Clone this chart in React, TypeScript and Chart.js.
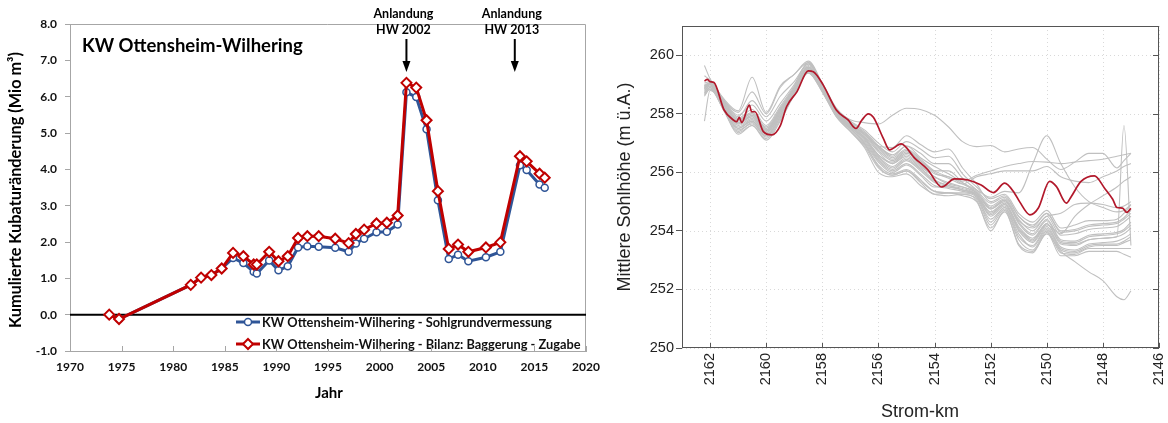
import React, { useEffect, useRef } from "react";
import { Chart, registerables } from "chart.js";
Chart.register(...registerables);

// ---------------- Left panel data ----------------
const YEARS = [1973.8, 1974.75, 1981.7, 1982.7, 1983.7, 1984.7, 1985.8, 1986.8, 1987.8, 1988.1,
  1989.3, 1990.2, 1991.1, 1992.1, 1993.0, 1994.1, 1995.7, 1997.0, 1997.7, 1998.5,
  1999.7, 2000.7, 2001.75, 2002.6, 2003.55, 2004.55, 2005.65, 2006.7, 2007.6, 2008.6,
  2010.3, 2011.7, 2013.6, 2014.25, 2015.5, 2016.0];
const SOHLGRUND = [0.0, -0.12, 0.82, 1.02, 1.09, 1.27, 1.56, 1.42, 1.18, 1.13,
  1.49, 1.22, 1.33, 1.85, 1.88, 1.87, 1.84, 1.73, 1.96, 2.09,
  2.27, 2.28, 2.48, 6.12, 5.99, 5.10, 3.15, 1.53, 1.65, 1.47,
  1.58, 1.73, 4.11, 3.98, 3.58, 3.49];
const BILANZ = [0.0, -0.12, 0.82, 1.02, 1.09, 1.27, 1.70, 1.61, 1.38, 1.38,
  1.73, 1.47, 1.61, 2.11, 2.16, 2.16, 2.09, 1.97, 2.22, 2.34,
  2.51, 2.53, 2.73, 6.38, 6.25, 5.35, 3.40, 1.81, 1.93, 1.73,
  1.85, 1.99, 4.36, 4.22, 3.88, 3.77];
const LEFT_TITLE = "KW Ottensheim-Wilhering";
const LEGEND_LABELS = [
  "KW Ottensheim-Wilhering - Sohlgrundvermessung",
  "KW Ottensheim-Wilhering - Bilanz: Baggerung - Zugabe",
];
const ANNOT_YEARS = [2002.6, 2013.1];
const ANNOT_LINE1 = ["Anlandung", "Anlandung"];
const ANNOT_LINE2 = ["HW 2002", "HW 2013"];
const LEFT_Y_TITLE = "Kumulierte Kubaturänderung (Mio m³)";
const LEFT_X_TITLE = "Jahr";

// ---------------- Right panel data ----------------
const KM_GRID = [2162.2, 2162.0, 2161.5, 2161.0, 2160.5, 2160.0, 2159.5, 2159.0, 2158.5, 2158.0,
  2157.5, 2157.0, 2156.5, 2156.0, 2155.5, 2155.0, 2154.5, 2154.0, 2153.5, 2153.0,
  2152.5, 2152.0, 2151.5, 2151.0, 2150.5, 2150.0, 2149.5, 2149.0, 2148.5, 2148.0,
  2147.5, 2147.25, 2147.0];
const G_TOP = [259.3, 259.15, 258.45, 258.05, 258.75, 258.0, 258.9, 259.35, 259.75, 259.0,
  258.15, 257.8, 257.7, 257.65, 257.95, 258.19, 258.15, 257.95, 257.55, 257.05,
  256.88, 256.92, 256.7, 256.8, 256.85, 256.45, 256.1, 256.35, 256.65, 256.65,
  256.15, 256.4, 256.65];
const G_B1 = [259.05, 259.1, 258.45, 257.95, 258.3, 257.75, 258.35, 259.0, 259.75, 259.0,
  258.15, 257.75, 257.45, 257.0, 256.7, 257.05, 256.8, 256.5, 256.55, 255.95,
  255.5, 255.1, 255.25, 254.6, 254.3, 254.7, 254.1, 254.2, 254.35, 254.35,
  254.4, 254.6, 254.9];
const G_B2 = [258.9, 259.05, 258.35, 257.8, 258.05, 257.55, 258.2, 258.9, 259.65, 258.95,
  258.1, 257.65, 257.3, 256.75, 256.4, 256.7, 256.35, 255.95, 255.85, 255.6,
  255.35, 254.85, 255.1, 254.4, 254.0, 254.5, 253.85, 253.9, 254.05, 254.1,
  254.15, 254.3, 254.5];
const G_B3 = [258.8, 258.95, 258.25, 257.6, 257.85, 257.35, 258.0, 258.8, 259.55, 258.85,
  258.0, 257.55, 257.15, 256.5, 256.15, 256.45, 256.1, 255.7, 255.55, 255.4,
  255.25, 254.6, 254.9, 254.1, 253.7, 254.25, 253.55, 253.5, 253.7, 253.75,
  253.8, 253.9, 254.1];
const G_B4 = [258.7, 258.9, 258.15, 257.4, 257.7, 257.2, 257.85, 258.7, 259.45, 258.8,
  257.95, 257.45, 256.95, 256.25, 255.95, 256.1, 255.75, 255.35, 255.3, 255.3,
  255.15, 254.4, 254.8, 253.9, 253.45, 254.05, 253.35, 253.25, 253.45, 253.5,
  253.5, 253.6, 253.7];
const G_B5 = [258.6, 258.85, 258.1, 257.3, 257.6, 257.1, 257.75, 258.65, 259.4, 258.75,
  257.9, 257.4, 256.85, 256.0, 255.85, 255.95, 255.55, 255.25, 255.2, 255.25,
  255.05, 254.0, 254.7, 253.5, 253.25, 253.95, 253.15, 253.15, 253.3, 253.3,
  253.3, 253.2, 253.1];
const G_B6 = [259.65, 259.2, 258.5, 258.1, 259.25, 258.05, 258.95, 259.35, 259.8, 259.05,
  258.2, 257.75, 257.35, 256.9, 256.85, 257.25, 256.95, 256.7, 256.8, 256.15,
  255.6, 255.0, 255.2, 254.5, 254.2, 254.6, 254.0, 254.05, 254.2, 254.25,
  254.3, 254.45, 254.7];
const G_B7 = [257.75, 258.8, 258.4, 257.9, 258.45, 257.9, 258.6, 259.1, 259.7, 258.95,
  258.1, 257.7, 257.25, 256.7, 256.3, 256.6, 256.25, 255.85, 255.65, 255.5,
  255.3, 254.75, 255.0, 254.3, 253.9, 254.4, 253.7, 253.65, 253.85, 253.9,
  253.95, 254.05, 254.3];
const G_B8 = [258.85, 259.0, 258.2, 257.5, 257.75, 257.3, 257.95, 258.75, 259.5, 258.85,
  258.0, 257.5, 257.05, 256.4, 256.05, 256.3, 255.95, 255.55, 255.45, 255.35,
  255.2, 254.5, 254.85, 254.0, 253.6, 254.15, 253.45, 253.35, 253.55, 253.6,
  253.65, 253.75, 253.9];
const G_B9 = [259.0, 259.05, 258.4, 257.85, 258.15, 257.6, 258.25, 258.95, 259.7, 258.95,
  258.1, 257.7, 257.4, 256.9, 256.55, 256.9, 256.65, 256.3, 256.3, 255.8,
  255.4, 254.95, 255.15, 254.5, 254.15, 254.6, 253.95, 254.0, 254.15, 254.2,
  254.25, 254.4, 254.6];
const G_B10 = [258.75, 258.9, 258.2, 257.45, 257.65, 257.25, 257.9, 258.7, 259.5, 258.8,
  257.95, 257.5, 257.0, 256.2, 255.9, 256.05, 255.7, 255.35, 255.3, 255.25,
  255.1, 254.2, 254.75, 253.7, 253.35, 254.0, 253.25, 253.2, 253.4, 253.4,
  253.4, 253.4, 253.4];
const G_B11 = [258.95, 259.0, 258.3, 257.65, 257.95, 257.45, 258.1, 258.85, 259.6, 258.9,
  258.05, 257.6, 257.2, 256.6, 256.35, 256.65, 256.4, 256.05, 256.05, 255.65,
  255.3, 254.8, 255.05, 254.25, 253.85, 254.35, 253.65, 253.6, 253.8, 253.85,
  253.9, 254.0, 254.2];
const G_B12 = [258.7, 258.9, 258.15, 257.5, 257.75, 257.25, 257.9, 258.75, 259.5, 258.8,
  257.95, 257.5, 257.0, 256.35, 256.0, 256.25, 255.9, 255.5, 255.5, 255.4,
  255.2, 254.3, 254.8, 253.8, 253.5, 254.1, 253.4, 253.3, 253.5, 253.55,
  253.55, 253.65, 253.8];
const G_PEAK = [258.95, 259.05, 258.35, 257.75, 258.0, 257.5, 258.15, 258.9, 259.6, 258.9,
  258.05, 257.65, 257.3, 256.9, 256.6, 256.9, 256.5, 256.2, 255.95, 255.65,
  255.4, 255.15, 255.35, 255.3, 256.3, 257.25, 256.3, 255.5, 255.0, 254.8,
  254.65, 254.7, 254.9];
const G_C = [258.9, 259.0, 258.35, 257.8, 258.0, 257.5, 258.15, 258.85, 259.6, 258.9,
  258.05, 257.6, 257.3, 256.8, 256.45, 256.75, 256.4, 256.0, 255.8, 255.6,
  255.85, 255.95, 256.05, 256.05, 256.05, 256.2, 255.85, 255.7, 255.65, 255.85,
  256.05, 256.2, 256.3];
const G_X = [258.95, 259.05, 258.3, 257.7, 257.95, 257.45, 258.1, 258.85, 259.6, 258.9,
  258.05, 257.6, 257.35, 256.85, 256.5, 256.8, 256.45, 256.05, 255.85, 255.7,
  255.9, 256.05, 256.2, 256.3, 256.37, 256.35, 256.3, 256.35, 256.4, 256.45,
  256.55, 256.6, 256.65];
const G_D = [258.8, 258.95, 258.25, 257.55, 257.8, 257.35, 258.0, 258.8, 259.55, 258.85,
  258.0, 257.55, 257.1, 256.45, 256.1, 256.4, 256.05, 255.65, 255.5, 255.4,
  255.2, 254.55, 254.9, 254.05, 253.65, 254.2, 253.9, 254.5, 254.9, 255.2,
  255.5, 255.7, 255.85];
const G_LOW = [258.65, 258.85, 258.1, 257.35, 257.6, 257.15, 257.8, 258.65, 259.4, 258.75,
  257.9, 257.4, 256.9, 256.15, 255.9, 256.05, 255.65, 255.25, 255.3, 255.2,
  255.0, 254.1, 254.65, 253.55, 253.3, 253.9, 253.3, 252.95, 252.6, 252.3,
  251.75, 251.65, 251.95];
const G_SPIKE = [258.9, 259.0, 258.3, 257.65, 257.9, 257.4, 258.05, 258.8, 259.55, 258.9,
  258.0, 257.55, 257.15, 256.55, 256.2, 256.5, 256.15, 255.75, 255.55, 255.45,
  255.25, 254.65, 254.95, 254.15, 253.75, 254.25, 253.6, 253.55, 253.7, 253.75,
  253.8, 257.6, 253.5];
const G_E = [258.85, 259.0, 258.3, 257.7, 257.9, 257.4, 258.1, 258.85, 259.6, 258.9,
  258.05, 257.6, 257.2, 256.6, 256.3, 256.55, 256.2, 255.85, 255.6, 255.5,
  255.3, 254.75, 255.05, 254.35, 254.1, 254.5, 254.6, 254.9, 254.95, 254.9,
  254.8, 254.85, 255.0];
const GRAY_SERIES = [G_TOP, G_B1, G_B2, G_B3, G_B4, G_B5, G_B6, G_B7, G_B8, G_B9, G_B10,
  G_B11, G_B12, G_PEAK, G_C, G_X, G_D, G_LOW, G_SPIKE, G_E];

const RED_KM = [2162.2, 2162.1, 2162.0, 2161.86, 2161.5, 2161.17, 2161.05, 2160.96, 2160.87, 2160.6,
  2160.52, 2160.4, 2160.1, 2159.8, 2159.5, 2159.27, 2158.9, 2158.5, 2158.32, 2157.97,
  2157.5, 2157.08, 2156.8, 2156.6, 2156.36, 2156.18, 2155.83, 2155.6, 2155.19, 2154.7,
  2154.24, 2153.74, 2153.29, 2152.8, 2152.34, 2151.9, 2151.5, 2151.15, 2150.97, 2150.6,
  2150.3, 2149.9, 2149.66, 2149.3, 2149.13, 2148.78, 2148.3, 2147.94, 2147.65, 2147.5,
  2147.3, 2147.15, 2147.0];
const RED_Z = [259.12, 259.18, 259.1, 259.07, 258.13, 257.79, 257.73, 257.88, 257.7, 258.3,
  258.07, 258.07, 257.39, 257.28, 257.59, 258.25, 258.76, 259.47, 259.44, 258.99,
  258.13, 257.79, 257.5, 257.77, 258.0, 257.88, 257.17, 256.77, 256.97, 256.48,
  256.09, 255.5, 255.78, 255.74, 255.57, 255.31, 255.63, 255.29, 255.0, 254.55,
  254.78, 255.69, 255.52, 254.95, 255.17, 255.69, 255.88, 255.46, 255.08, 254.8,
  254.78, 254.63, 254.77];
const RIGHT_Y_TITLE = "Mittlere Sohlhöhe (m ü.A.)";
const RIGHT_X_TITLE = "Strom-km";

// ---------------- Styles ----------------
const RED = "#C00000";
const BLUE = "#2F5597";
const LFONT = "Lato, 'Open Sans', sans-serif";
const RFONT = "'Liberation Sans', Arial, sans-serif";
const RED_R = "#B2182B";
const GRAY_R = "#C0C0C0";

function drawDiamond(ctx: CanvasRenderingContext2D, x: number, y: number, r: number) {
  ctx.beginPath();
  ctx.moveTo(x, y - r);
  ctx.lineTo(x + r, y);
  ctx.lineTo(x, y + r);
  ctx.lineTo(x - r, y);
  ctx.closePath();
  ctx.fillStyle = "#fff";
  ctx.fill();
  ctx.strokeStyle = RED;
  ctx.lineWidth = 2;
  ctx.stroke();
}

const leftDecor = {
  id: "leftDecor",
  beforeDatasetsDraw(chart: any) {
    const { ctx, chartArea: a, scales } = chart;
    ctx.save();
    ctx.strokeStyle = "#a6a6a6";
    ctx.lineWidth = 1;
    ctx.beginPath();
    ctx.moveTo(a.left, a.top + 0.5);
    ctx.lineTo(a.right - 0.5, a.top + 0.5);
    ctx.lineTo(a.right - 0.5, a.bottom);
    ctx.stroke();
    const y0 = scales.y.getPixelForValue(0);
    ctx.strokeStyle = "#000";
    ctx.lineWidth = 2;
    ctx.beginPath();
    ctx.moveTo(a.left, y0);
    ctx.lineTo(a.right, y0);
    ctx.stroke();
    ctx.restore();
  },
  afterDatasetsDraw(chart: any) {
    const { ctx, chartArea: a, scales } = chart;
    ctx.save();
    // legend
    const lx = a.left + 166;
    const ly = [a.bottom - 29, a.bottom - 7];
    ctx.font = `bold 12.8px ${LFONT}`;
    ctx.textBaseline = "middle";
    ctx.textAlign = "left";
    ctx.strokeStyle = BLUE;
    ctx.lineWidth = 3;
    ctx.beginPath();
    ctx.moveTo(lx, ly[0]);
    ctx.lineTo(lx + 24, ly[0]);
    ctx.stroke();
    ctx.beginPath();
    ctx.arc(lx + 12, ly[0], 3.5, 0, Math.PI * 2);
    ctx.fillStyle = "#fff";
    ctx.fill();
    ctx.lineWidth = 1.5;
    ctx.stroke();
    ctx.fillStyle = "#111";
    ctx.fillText(LEGEND_LABELS[0], lx + 26, ly[0] + 1);
    ctx.strokeStyle = RED;
    ctx.lineWidth = 3;
    ctx.beginPath();
    ctx.moveTo(lx, ly[1]);
    ctx.lineTo(lx + 24, ly[1]);
    ctx.stroke();
    drawDiamond(ctx, lx + 12, ly[1], 5);
    ctx.fillStyle = "#111";
    ctx.fillText(LEGEND_LABELS[1], lx + 26, ly[1] + 1);

    // inward x ticks
    ctx.strokeStyle = "#a6a6a6";
    ctx.lineWidth = 1;
    scales.x.ticks.forEach((t: any) => {
      const px = Math.round(scales.x.getPixelForValue(t.value)) + 0.5;
      ctx.beginPath();
      ctx.moveTo(px, a.bottom);
      ctx.lineTo(px, a.bottom - 5);
      ctx.stroke();
    });

    // title
    ctx.fillStyle = "#000";
    ctx.font = `bold 18.5px ${LFONT}`;
    ctx.textAlign = "left";
    ctx.fillText(LEFT_TITLE, a.left + 12, a.top + 22);

    // annotations
    ANNOT_YEARS.forEach((yr, i) => {
      const x = scales.x.getPixelForValue(yr);
      ctx.font = `bold 12.5px ${LFONT}`;
      ctx.textAlign = "center";
      ctx.fillStyle = "#000";
      ctx.fillText(ANNOT_LINE1[i], x - 3, 14);
      ctx.fillText(ANNOT_LINE2[i], x - 3, 30);
      ctx.strokeStyle = "#000";
      ctx.lineWidth = 2;
      ctx.beginPath();
      ctx.moveTo(x, 39);
      ctx.lineTo(x, 62);
      ctx.stroke();
      ctx.beginPath();
      ctx.moveTo(x - 4, 61);
      ctx.lineTo(x + 4, 61);
      ctx.lineTo(x, 72);
      ctx.closePath();
      ctx.fillStyle = "#000";
      ctx.fill();
    });

    // axis titles
    ctx.fillStyle = "#000";
    ctx.font = `bold 15px ${LFONT}`;
    ctx.textAlign = "center";
    ctx.fillText(LEFT_X_TITLE, (a.left + a.right) / 2 + 1, 393);
    ctx.font = `bold 16.3px ${LFONT}`;
    ctx.translate(16, 190);
    ctx.rotate(-Math.PI / 2);
    ctx.fillText(LEFT_Y_TITLE, 0, 0);
    ctx.restore();
  },
};

const rightDecor = {
  id: "rightDecor",
  beforeDatasetsDraw(chart: any) {
    const { ctx, chartArea: a, scales } = chart;
    ctx.save();
    ctx.strokeStyle = "#d9d9d9";
    ctx.lineWidth = 1;
    ctx.setLineDash([1, 3]);
    scales.x.ticks.forEach((t: any) => {
      const px = Math.round(scales.x.getPixelForValue(t.value)) + 0.5;
      ctx.beginPath();
      ctx.moveTo(px, a.top);
      ctx.lineTo(px, a.bottom);
      ctx.stroke();
    });
    scales.y.ticks.forEach((t: any) => {
      const py = Math.round(scales.y.getPixelForValue(t.value)) + 0.5;
      ctx.beginPath();
      ctx.moveTo(a.left, py);
      ctx.lineTo(a.right, py);
      ctx.stroke();
    });
    ctx.restore();
  },
  afterDraw(chart: any) {
    const { ctx, chartArea: a, scales } = chart;
    ctx.save();
    ctx.strokeStyle = "#555";
    ctx.lineWidth = 1;
    ctx.strokeRect(Math.round(a.left) + 0.5, Math.round(a.top) + 0.5, Math.round(a.right - a.left) - 1, Math.round(a.bottom - a.top) - 1);
    scales.x.ticks.forEach((t: any) => {
      const px = Math.round(scales.x.getPixelForValue(t.value)) + 0.5;
      ctx.beginPath();
      ctx.moveTo(px, a.bottom);
      ctx.lineTo(px, a.bottom - 5);
      ctx.stroke();
    });
    scales.y.ticks.forEach((t: any) => {
      const py = Math.round(scales.y.getPixelForValue(t.value)) + 0.5;
      ctx.beginPath();
      ctx.moveTo(a.right, py);
      ctx.lineTo(a.right - 6, py);
      ctx.stroke();
    });
    ctx.fillStyle = "#222";
    ctx.font = `18px ${RFONT}`;
    ctx.textAlign = "center";
    ctx.textBaseline = "middle";
    ctx.fillText(RIGHT_X_TITLE, 320, 412);
    ctx.translate(25, 187);
    ctx.rotate(-Math.PI / 2);
    ctx.fillText(RIGHT_Y_TITLE, 0, 0);
    ctx.restore();
  },
};

const zeroPadX = (h: number) => (s: any) => {
  s.height = h;
  s.paddingLeft = 0;
  s.paddingRight = 0;
};
const zeroPadY = (w: number) => (s: any) => {
  s.width = w;
  s.paddingTop = 0;
  s.paddingBottom = 0;
};

const leftConfig = (): any => ({
  type: "line",
  data: {
    datasets: [
      {
        label: LEGEND_LABELS[1],
        data: YEARS.map((x, i) => ({ x, y: BILANZ[i] })),
        borderColor: RED,
        backgroundColor: "#fff",
        borderWidth: 3,
        pointStyle: "rectRot",
        pointRadius: 5,
        pointBorderWidth: 2,
        pointBackgroundColor: "#fff",
        pointBorderColor: RED,
        tension: 0,
      },
      {
        label: LEGEND_LABELS[0],
        data: YEARS.map((x, i) => ({ x, y: SOHLGRUND[i] })),
        borderColor: BLUE,
        backgroundColor: "#fff",
        borderWidth: 3,
        pointStyle: "circle",
        pointRadius: 3.5,
        pointBorderWidth: 1.5,
        pointBackgroundColor: "#fff",
        pointBorderColor: BLUE,
        tension: 0,
      },
    ],
  },
  options: {
    responsive: false,
    animation: false,
    layout: { padding: { left: 0, right: 14, top: 24, bottom: 0 } },
    plugins: { legend: { display: false }, tooltip: { enabled: false } },
    scales: {
      x: {
        type: "linear",
        min: 1970,
        max: 2020,
        afterFit: zeroPadX(72),
        ticks: {
          stepSize: 5,
          callback: (v: any) => String(v),
          font: { family: LFONT, weight: "bold", size: 12 },
          color: "#111",
          padding: 9,
          maxRotation: 0,
          autoSkip: false,
        },
        grid: { display: true, drawOnChartArea: false, drawTicks: false },
        border: { display: true, color: "#a6a6a6", width: 1 },
      },
      y: {
        type: "linear",
        min: -1,
        max: 8,
        afterFit: zeroPadY(70),
        ticks: {
          stepSize: 1,
          callback: (v: any) => Number(v).toFixed(1),
          font: { family: LFONT, weight: "bold", size: 12 },
          color: "#111",
          padding: 8,
        },
        grid: { display: true, drawOnChartArea: false, drawTicks: true, tickLength: 5, color: "#a6a6a6" },
        border: { display: true, color: "#a6a6a6", width: 1 },
      },
    },
  },
  plugins: [leftDecor],
});

const rightConfig = (): any => ({
  type: "line",
  data: {
    datasets: [
      {
        data: RED_KM.map((x, i) => ({ x, y: RED_Z[i] })),
        borderColor: RED_R,
        borderWidth: 1.7,
        pointRadius: 0,
        cubicInterpolationMode: "monotone",
      },
      ...GRAY_SERIES.map((s) => ({
        data: KM_GRID.map((x, i) => ({ x, y: s[i] })),
        borderColor: GRAY_R,
        borderWidth: 1.1,
        pointRadius: 0,
        cubicInterpolationMode: "monotone",
      })),
    ],
  },
  options: {
    responsive: false,
    animation: false,
    layout: { padding: { left: 0, right: 9, top: 26, bottom: 0 } },
    plugins: { legend: { display: false }, tooltip: { enabled: false } },
    scales: {
      x: {
        type: "linear",
        reverse: true,
        min: 2146,
        max: 2163,
        afterFit: zeroPadX(75),
        ticks: {
          stepSize: 2,
          includeBounds: false,
          autoSkip: false,
          minRotation: 90,
          maxRotation: 90,
          callback: (v: any) => String(v),
          font: { family: RFONT, size: 14.5 },
          color: "#222",
          padding: 5,
        },
        grid: { display: false, drawOnChartArea: false, drawTicks: false },
        border: { display: false },
      },
      y: {
        type: "linear",
        min: 250,
        max: 261,
        afterFit: zeroPadY(82),
        ticks: {
          stepSize: 2,
          includeBounds: false,
          callback: (v: any) => String(v),
          font: { family: RFONT, size: 14.5 },
          color: "#222",
          padding: 2,
        },
        grid: { display: true, drawOnChartArea: false, drawTicks: true, tickLength: 6, color: "#555" },
        border: { display: false },
      },
    },
  },
  plugins: [rightDecor],
});

function ChartCanvas({ left, width, height, config }: { left: number; width: number; height: number; config: () => any }) {
  const ref = useRef<HTMLCanvasElement>(null);
  useEffect(() => {
    const chart = new Chart(ref.current as HTMLCanvasElement, config());
    return () => chart.destroy();
  }, [config]);
  return (
    <canvas
      ref={ref}
      width={width}
      height={height}
      style={{ position: "absolute", left, top: 0, width, height, display: "block" }}
    />
  );
}

export default function App() {
  return (
    <div style={{ position: "fixed", left: 0, top: 0, width: 1168, height: 423, background: "#fff", overflow: "hidden" }}>
      <ChartCanvas left={0} width={600} height={423} config={leftConfig} />
      <ChartCanvas left={600} width={568} height={423} config={rightConfig} />
    </div>
  );
}
